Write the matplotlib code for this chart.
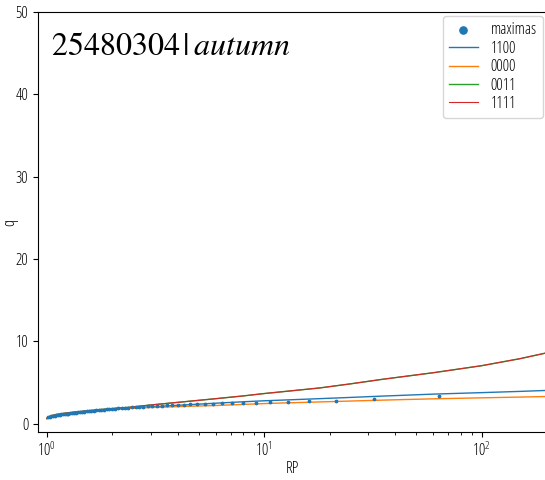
import matplotlib
matplotlib.use("Agg")
import matplotlib.pyplot as plt

plt.rcParams["font.family"] = ["Open Sans", "DejaVu Sans"]
plt.rcParams["font.stretch"] = "condensed"
plt.rcParams["font.weight"] = "normal"
plt.rcParams["mathtext.fontset"] = "stix"

# Return-level curves for each model variant
rp_curve = [1.0, 1.02, 1.05, 1.1, 1.2, 1.35, 1.5, 1.75, 2.0, 2.4, 3.0, 4.0,
            6.0, 8.0, 10.0, 12.0, 18.0, 25.0, 35.0, 60.0, 100.0, 150.0, 200.0, 260.0]
q_1100 = [0.70, 0.85, 0.98, 1.10, 1.25, 1.40, 1.50, 1.65, 1.77, 1.90, 2.05, 2.24,
          2.50, 2.67, 2.79, 2.87, 3.05, 3.20, 3.36, 3.60, 3.78, 3.93, 4.05, 4.15]
q_0000 = [0.70, 0.85, 0.98, 1.10, 1.25, 1.40, 1.50, 1.64, 1.75, 1.87, 1.97, 2.08,
          2.22, 2.35, 2.45, 2.52, 2.65, 2.76, 2.87, 3.03, 3.15, 3.24, 3.31, 3.37]
q_0011 = [0.60, 0.80, 0.95, 1.10, 1.25, 1.42, 1.55, 1.72, 1.85, 2.00, 2.28, 2.60,
          3.05, 3.38, 3.67, 3.88, 4.35, 4.85, 5.40, 6.20, 7.05, 7.90, 8.62, 9.20]
q_1111 = list(q_0011)

# Annual maxima, sorted from largest to smallest
maximas = [3.35, 2.95, 2.82, 2.76, 2.68, 2.60, 2.57, 2.54, 2.50, 2.47,
           2.44, 2.41, 2.38, 2.35, 2.32, 2.29, 2.26, 2.23, 2.20, 2.17,
           2.14, 2.11, 2.08, 2.05, 2.02, 1.99, 1.96, 1.93, 1.90, 1.87,
           1.84, 1.81, 1.78, 1.75, 1.72, 1.69, 1.66, 1.63, 1.60, 1.57,
           1.54, 1.51, 1.48, 1.45, 1.42, 1.39, 1.36, 1.33, 1.30, 1.27,
           1.24, 1.21, 1.18, 1.15, 1.13, 1.10, 1.07, 1.04, 1.00, 0.95,
           0.90, 0.86, 0.82]
n = len(maximas)
rp_max = [(n + 1) / (i + 1) for i in range(n)]

W, H = 545, 480
fig = plt.figure(figsize=(W / 100, H / 100), dpi=100)
left, right, top, bottom = 38, 547, 12, 432
ax = fig.add_axes([left / W, 1 - bottom / H, (right - left) / W, (bottom - top) / H])

ax.scatter(rp_max, maximas, s=3, color="#1f77b4", label="maximas", zorder=3)
ax.plot(rp_curve, q_1100, color="#1f77b4", lw=1.0, label="1100")
ax.plot(rp_curve, q_0000, color="#ff7f0e", lw=1.0, label="0000")
ax.plot(rp_curve, q_0011, color="#2ca02c", lw=1.0, label="0011")
ax.plot(rp_curve, q_1111, color="#d62728", lw=0.8, label="1111")

ax.set_xscale("log")
ax.set_xlim(0.91, 200)
ax.set_ylim(-1, 50)
ax.set_xlabel("RP", fontsize=11.5)
ax.set_ylabel("q", fontsize=11.5)
ax.xaxis.set_label_coords(0.5, -(461 - bottom) / (bottom - top))
ax.yaxis.set_label_coords(-(left - 18) / (right - left), 0.5)
ax.tick_params(labelsize=11.5)

ax.text(0.025, 0.955, r"$25480304\,|\,autumn$", transform=ax.transAxes,
        fontsize=23, va="top", ha="left")

ax.legend(loc="upper right", bbox_to_anchor=(543 / W, 1 - 16 / H),
          bbox_transform=fig.transFigure, fontsize=11.5, markerscale=3,
          labelspacing=0.15, frameon=True, handlelength=1.8, borderaxespad=0.0)

fig.savefig("out.png", dpi=100)
